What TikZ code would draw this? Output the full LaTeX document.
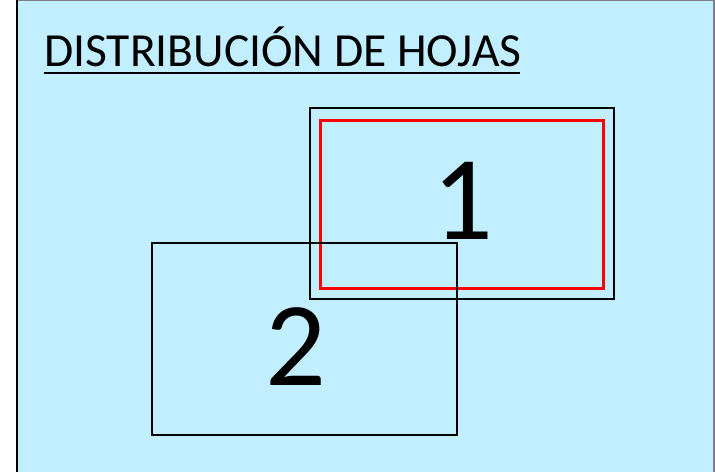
\documentclass[tikz,border=0pt]{standalone}
\usepackage{fontspec}
\setmainfont{Carlito}
\usepackage{tikz}
\definecolor{panelblue}{RGB}{193,239,255}
\tikzset{
  sheet/.style={draw=black,line width=2pt},
  margin/.style={draw=red,line width=3pt},
  sheetnum/.style={font=\fontsize{120}{120}\selectfont,inner sep=0pt},
  title/.style={font=\fontsize{47.5}{47.5}\selectfont,inner sep=0pt,anchor=base west}
}
\begin{document}
\begin{tikzpicture}[x=1pt,y=-1pt]
        \useasboundingbox (0,0) rectangle (715,472);
        \fill[panelblue] (17,0) rectangle (714,472);
        \draw[gray,line width=1pt] (17,0.5) -- (714,0.5);
        \draw[gray,line width=1.5pt] (714,0) -- (714,472);
        \draw[black,line width=2.5pt] (17,0) -- (17,472);

        \node[title] (title) at (44,66) {DISTRIBUCIÓN DE HOJAS};
        \coordinate (ul1) at (44,73);
        \coordinate (ul2) at (520,73);
        \draw[line width=2pt] (ul1) -- (ul2);

        % hoja 1
        \node[sheet,minimum width=304pt,minimum height=191pt,anchor=north west] (s1) at (309,107) {};
        \node[margin,minimum width=283pt,minimum height=168pt,anchor=north west] (m1) at (319,119) {};
        \node[sheetnum] (n1) at (463,201) {1};

        % hoja 2
        \node[sheet,minimum width=305pt,minimum height=192pt,anchor=north west] (s2) at (151,242) {};
        \node[sheetnum] (n2) at (296,347) {2};
\end{tikzpicture}
\end{document}
